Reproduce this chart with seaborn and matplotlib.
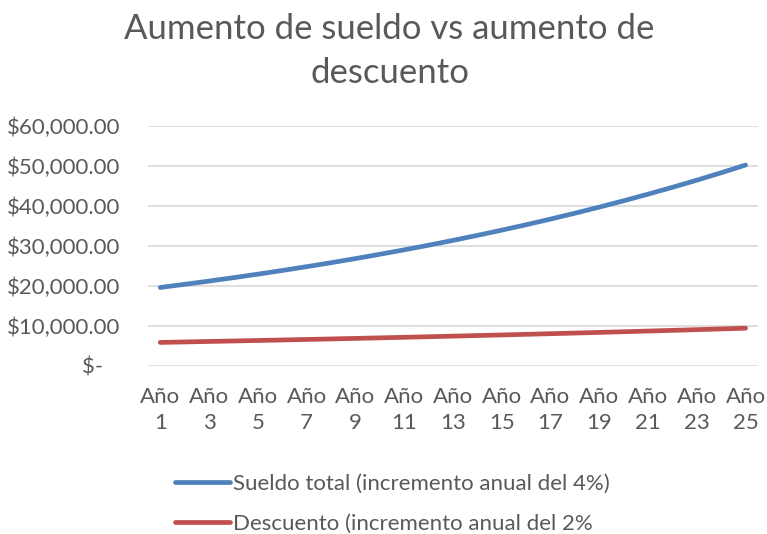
import pandas as pd
import seaborn as sns
import matplotlib.pyplot as plt

# values
years = list(range(1, 26))
sueldo = [19600, 20384, 21199, 22047, 22929, 23846, 24800, 25792, 26824, 27897,
          29013, 30173, 31380, 32635, 33941, 35298, 36710, 38179, 39706, 41294,
          42946, 44664, 46450, 48308, 50241]
descuento = [5850, 5967, 6086, 6208, 6332, 6459, 6588, 6720, 6854, 6991,
             7131, 7274, 7419, 7568, 7719, 7873, 8031, 8191, 8355, 8522,
             8693, 8867, 9044, 9225, 9409]
series_names = ["Sueldo total (incremento anual del 4%)",
                "Descuento (incremento anual del 2%"]
y_ticks = [0, 10000, 20000, 30000, 40000, 50000, 60000]
y_labels = ["$-   ", "$10,000.00", "$20,000.00", "$30,000.00",
            "$40,000.00", "$50,000.00", "$60,000.00"]
x_ticks = years[::2]
x_labels = [f"Año\n{y}" for y in x_ticks]

df = pd.DataFrame({
    "Año": years * 2,
    "Valor": sueldo + descuento,
    "Serie": [series_names[0]] * len(years) + [series_names[1]] * len(years),
})

sns.set_theme(style="white")
plt.rcParams["font.family"] = ["Lato", "DejaVu Sans"]
text_color = "#595959"
fs = 16

fig = plt.figure(figsize=(7.67, 5.34), dpi=100)
ax = fig.add_axes([0.193, 0.315, 0.795, 0.449])

sns.lineplot(
    data=df,
    x="Año",
    y="Valor",
    hue="Serie",
    palette=["#4F81BD", "#C0504D"],
    linewidth=3.4,
    ax=ax,
    legend=True,
)
for line in ax.get_lines():
    line.set_solid_capstyle("round")

ax.set_xlim(0.5, 25.5)
ax.set_ylim(0, 60000)
ax.set_yticks(y_ticks)
ax.set_yticklabels(y_labels)
ax.set_xticks(x_ticks)
ax.set_xticklabels(x_labels, linespacing=1.4)
ax.tick_params(axis="both", length=0, labelsize=fs, colors=text_color)
ax.tick_params(axis="y", pad=20)
ax.tick_params(axis="x", pad=15)
ax.set_xlabel("")
ax.set_ylabel("")
ax.yaxis.grid(True, color="#D9D9D9", linewidth=1.2)
ax.xaxis.grid(False)
for side in ["top", "right", "left", "bottom"]:
    ax.spines[side].set_visible(False)
ax.set_axisbelow(True)

handles, labels = ax.get_legend_handles_labels()
ax.get_legend().remove()
for h in handles:
    h.set_solid_capstyle("round")
fig.legend(
    handles, labels,
    loc="center left",
    bbox_to_anchor=(0.228, 0.057),
    frameon=False,
    fontsize=fs,
    labelcolor=text_color,
    handlelength=2.5,
    handletextpad=0.12,
    labelspacing=0.9,
    borderpad=0,
    borderaxespad=0,
)

fig.text(0.508, 0.975, "Aumento de sueldo vs aumento de\ndescuento",
         ha="center", va="top", fontsize=25, color=text_color, linespacing=1.45)

fig.savefig("out.png", dpi=100)
